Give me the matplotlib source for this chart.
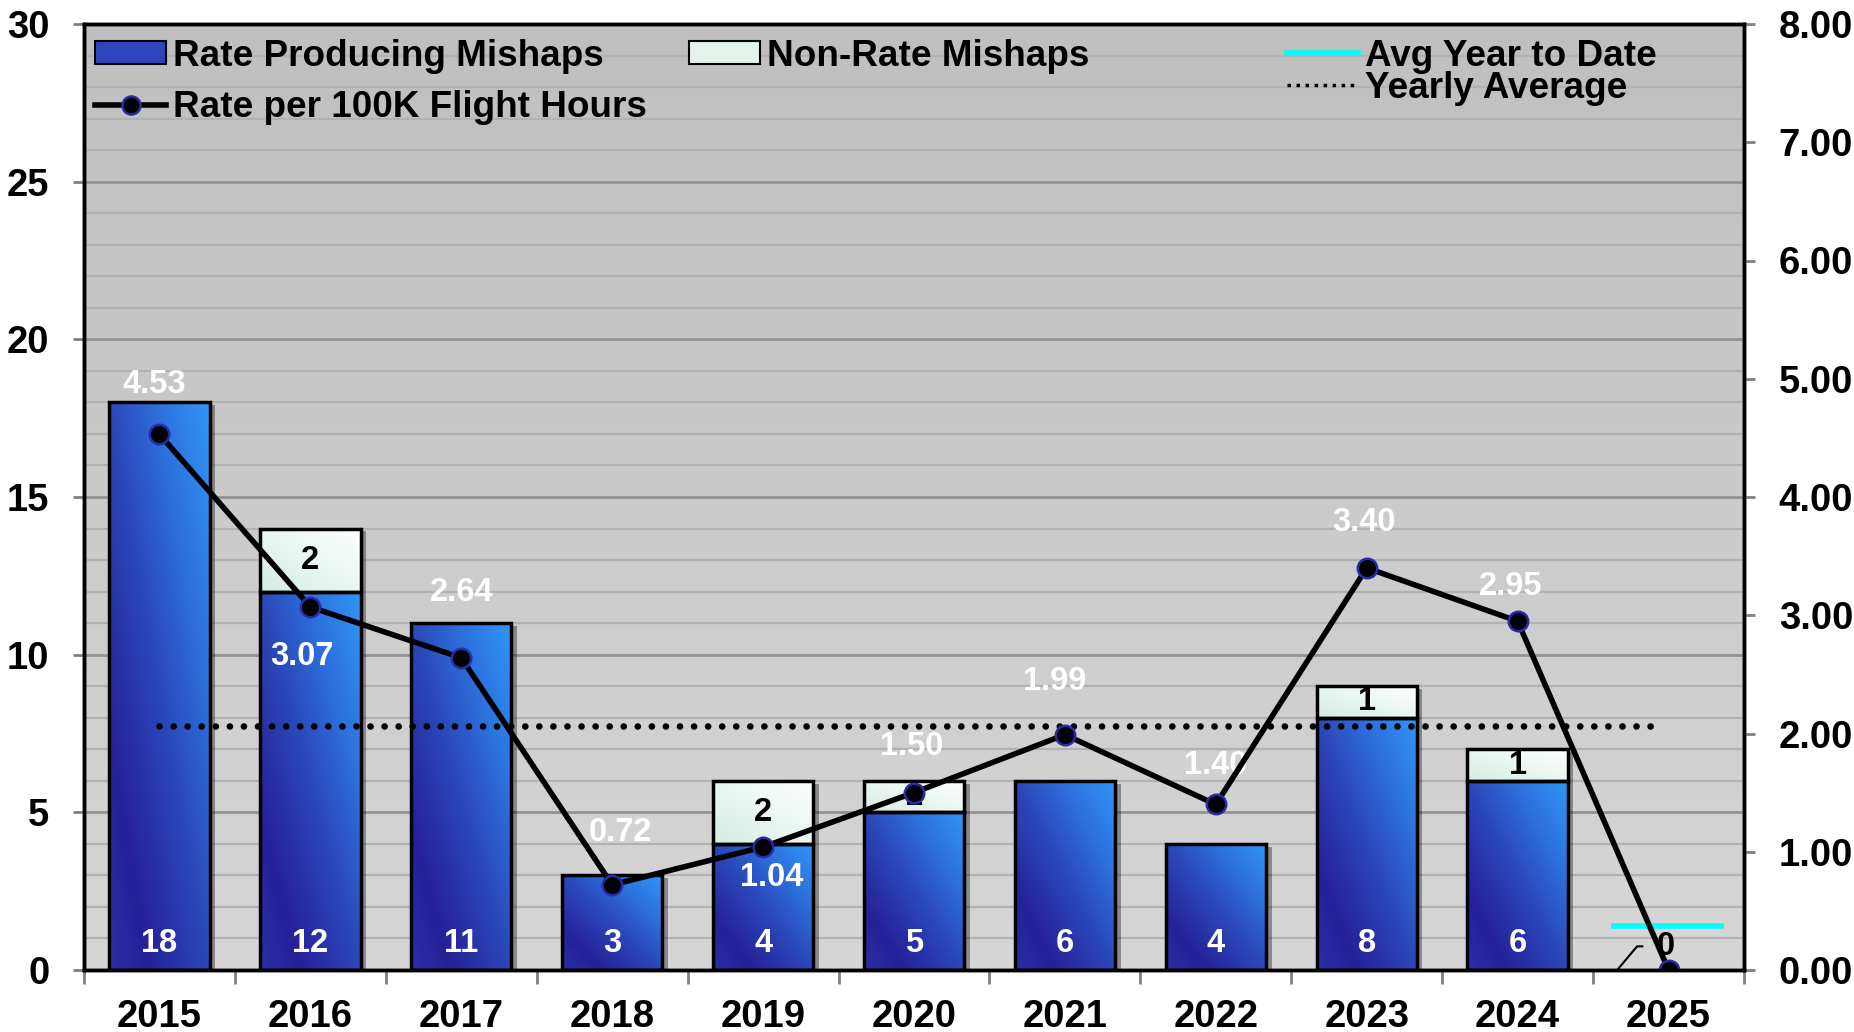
import numpy as np
import matplotlib
matplotlib.use("Agg")
import matplotlib.pyplot as plt
import matplotlib.patheffects as pe
from matplotlib.patches import Patch
from matplotlib.lines import Line2D
from matplotlib.colors import LinearSegmentedColormap

# data
years = ['2015', '2016', '2017', '2018', '2019', '2020', '2021', '2022', '2023', '2024', '2025']
rate_mishaps = [18, 12, 11, 3, 4, 5, 6, 4, 8, 6, 0]
nonrate_mishaps = [0, 2, 0, 0, 2, 1, 0, 0, 1, 1, 0]
rate_per_100k = [4.53, 3.07, 2.64, 0.72, 1.04, 1.50, 1.99, 1.40, 3.40, 2.95, 0.00]
yearly_avg = 2.06
avg_ytd = 0.37

# label offsets for the rate values (points)
rate_lbl_off = [(-4, 36), (-6, -36), (0, 47), (6, 38), (6, -22), (-2, 33),
                (-7, 38), (0, 28), (-2, 33), (-5, 25)]

plt.rcParams['font.family'] = ['Liberation Sans', 'DejaVu Sans']
plt.rcParams['font.weight'] = 'bold'

W, H = 1854, 1032
fig = plt.figure(figsize=(W / 100, H / 100), dpi=100)
ax = fig.add_axes([84 / W, 62 / H, 1660 / W, 946 / H])
ax2 = ax.twinx()

x = np.arange(len(years))
bw = 0.665

# background gradient
bg = np.linspace(0.84, 0.75, 256)[:, None]
ax.imshow(np.dstack([bg, bg, bg]), extent=[0, 1, 0, 1], transform=ax.transAxes,
          aspect='auto', origin='lower', zorder=0, interpolation='bilinear')
ax.set_xlim(-0.5, len(years) - 0.5)
ax.set_ylim(0, 30)
ax2.set_ylim(0, 8)

ax.set_yticks(np.arange(0, 31, 5))
ax.set_yticks(np.arange(0, 31, 1), minor=True)
ax.set_axisbelow(True)
ax.grid(axis='y', which='minor', color='#b2b2b2', lw=1.6)
ax.grid(axis='y', which='major', color='#939393', lw=2.0)

blue_cm = LinearSegmentedColormap.from_list('blu', [
    (0.0, (42 / 255, 46 / 255, 166 / 255)),
    (0.2, (37 / 255, 33 / 255, 152 / 255)),
    (0.5, (43 / 255, 72 / 255, 186 / 255)),
    (0.75, (45 / 255, 114 / 255, 222 / 255)),
    (1.0, (48 / 255, 150 / 255, 248 / 255))])
mint_cm = LinearSegmentedColormap.from_list('mnt', [(212 / 255, 238 / 255, 227 / 255),
                                                    (1, 1, 1)])


def gradient_fill(patch, cmap):
    x0, y0 = patch.get_x(), patch.get_y()
    w, h = patch.get_width(), patch.get_height()
    if h <= 0:
        return
    n = 200
    u = np.linspace(0, 1, n)[None, :]
    v = np.linspace(0, 1, n)[:, None]
    t = (u + v) / 2
    im = ax.imshow(t, cmap=cmap, vmin=0, vmax=1, extent=[x0, x0 + w, y0, y0 + h],
                   origin='lower', aspect='auto', zorder=2.1, interpolation='bilinear')
    im.set_clip_path(patch)


shadow = [pe.SimplePatchShadow(offset=(4, -2), alpha=0.35, shadow_rgbFace='black'), pe.Normal()]

b1 = ax.bar(x, rate_mishaps, width=bw, color='#25219a', edgecolor='none', zorder=2,
            path_effects=shadow)
b2 = ax.bar(x, nonrate_mishaps, width=bw, bottom=rate_mishaps, color='#d4eee3',
            edgecolor='none', zorder=2, path_effects=shadow)
for p in b1:
    gradient_fill(p, blue_cm)
for p in b2:
    gradient_fill(p, mint_cm)
for i in range(len(years)):
    if rate_mishaps[i] > 0:
        ax.bar(x[i], rate_mishaps[i], width=bw, fill=False, edgecolor='black',
               lw=2.5, zorder=2.2)
    if nonrate_mishaps[i] > 0:
        ax.bar(x[i], nonrate_mishaps[i], width=bw, bottom=rate_mishaps[i], fill=False,
               edgecolor='black', lw=2.5, zorder=2.2)

# count labels
for i in range(len(years)):
    if rate_mishaps[i] > 0:
        ax.text(x[i], 0.84, str(rate_mishaps[i]), ha='center', va='center',
                color='white', fontsize=23.5, fontweight='bold', zorder=2.5)
    if nonrate_mishaps[i] > 0:
        ax.text(x[i], rate_mishaps[i] + nonrate_mishaps[i] / 2, str(nonrate_mishaps[i]),
                ha='center', va='center', color='black', fontsize=23.5,
                fontweight='bold', zorder=2.5)

# lines on the right axis
ax2.hlines(yearly_avg, x[0], x[-1] - 0.05, colors='black', lw=4.8,
           linestyles=(0, (0.01, 2.1)), capstyle='round', zorder=3)
ax2.hlines(avg_ytd, x[-1] - 0.38, x[-1] + 0.37, colors='#00ffff', lw=4, zorder=3)
ax2.plot(x, rate_per_100k, color='black', lw=4, marker='o', ms=14,
         mfc='black', mec='#2a2aa8', mew=1.8, zorder=5)

for i in range(len(years) - 1):
    ax2.annotate(f'{rate_per_100k[i]:.2f}', (x[i], rate_per_100k[i]),
                 xytext=rate_lbl_off[i], textcoords='offset points', ha='center',
                 va='center', color='white', fontsize=23.5, fontweight='bold', zorder=4)
ax2.annotate('0', (x[-1] - 0.34, 0), xytext=(x[-1] - 0.02, 0.2), ha='center', va='center',
             color='black', fontsize=23.5, fontweight='bold', zorder=4,
             arrowprops=dict(arrowstyle='-', color='black', lw=1.5, shrinkA=8, shrinkB=0,
                             connectionstyle='angle,angleA=0,angleB=50,rad=0'))

# axes and ticks
ax.set_xticks(x)
ax.set_xticklabels(years)
ax.set_xticks(np.arange(-0.5, len(years), 1), minor=True)
ax.tick_params(axis='x', which='major', length=0, pad=21, labelsize=27.5)
ax.tick_params(axis='x', which='minor', length=10, width=2, color='#808080', direction='out')
ax.tick_params(axis='y', which='major', length=8, width=2, color='#808080', pad=17,
               labelsize=27.5)
ax.tick_params(axis='y', which='minor', length=0)
ax2.set_yticks(np.arange(0, 8.01, 1))
ax2.set_yticklabels([f'{v:.2f}' for v in np.arange(0, 8.01, 1)])
ax2.tick_params(axis='y', length=8, width=2, color='#808080', pad=17, labelsize=27.5)
for a in (ax, ax2):
    for s in a.spines.values():
        s.set_color('black')
        s.set_linewidth(2.5)
        s.set_zorder(6)
ax2.patch.set_visible(False)

# legends
h_rate = Patch(facecolor='#2c45bd', edgecolor='black', lw=1.5)
h_non = Patch(facecolor='#e2f4ec', edgecolor='black', lw=1.5)
h_line = Line2D([], [], color='black', lw=4, marker='o', ms=13, mfc='black',
                mec='#2a2aa8', mew=1.8)
leg1 = ax2.legend([h_rate, h_line, h_non],
                  ['Rate Producing Mishaps', 'Rate per 100K Flight Hours', 'Non-Rate Mishaps'],
                  ncol=2, loc='upper left', bbox_to_anchor=(-0.002, 1.0), frameon=False,
                  fontsize=26.6, handlelength=1.9, handleheight=0.6, handletextpad=0.2,
                  labelspacing=0.45, columnspacing=1.15, borderaxespad=0.2, borderpad=0.2)
leg1.set_zorder(7)
ax2.add_artist(leg1)

h_ytd = Line2D([], [], color='#00ffff', lw=4)
h_avg = Line2D([], [], color='black', lw=2.5, linestyle=(0, (1, 1.6)))
leg2 = ax2.legend([h_ytd, h_avg], ['Avg Year to Date', 'Yearly Average'],
                  loc='upper left', bbox_to_anchor=(0.716, 1.0), frameon=False,
                  fontsize=26.6, handlelength=1.9, handletextpad=0.2,
                  labelspacing=-0.08, borderaxespad=0.2, borderpad=0.2)
leg2.set_zorder(7)

fig.savefig('out.png', dpi=100)
